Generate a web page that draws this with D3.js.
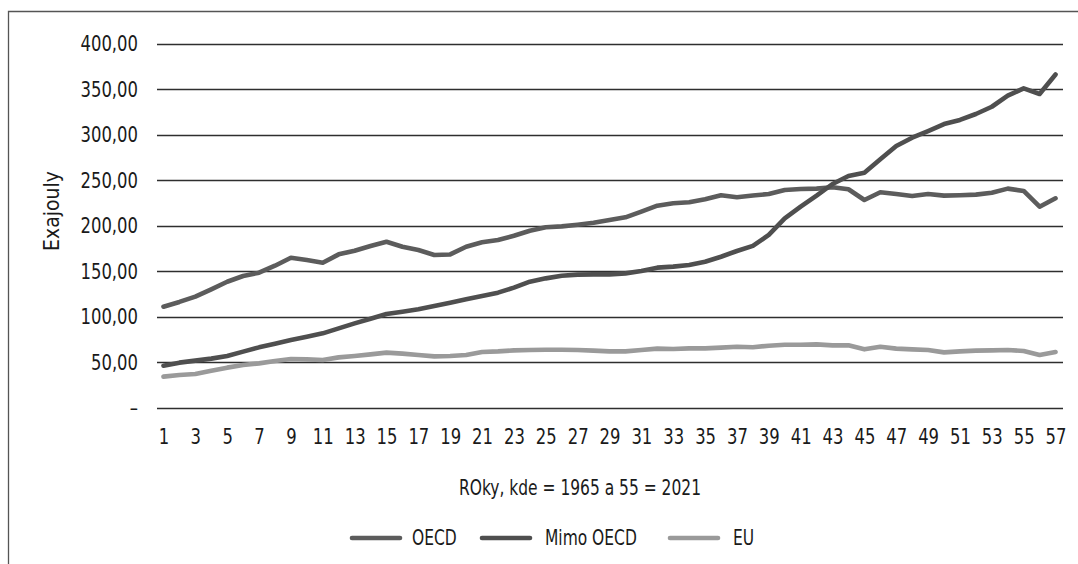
<!DOCTYPE html>
<html>
<head>
<meta charset="utf-8">
<script src="https://cdn.jsdelivr.net/npm/d3@7"></script>
<style>
  html, body { margin: 0; padding: 0; background: #fff; }
  svg { display: block; }
  text { font-family: "DejaVu Sans Condensed", "DejaVu Sans", sans-serif; font-stretch: condensed; fill: #1a1a1a; }
</style>
</head>
<body>
<svg id="chart" width="1078" height="564"></svg>
<script>
// ---- data ----
const years = d3.range(1, 58);
const seriesNames = ["OECD", "Mimo OECD", "EU"];
const oecd = [110.8, 116, 121.8, 129.9, 138.2, 144.5, 148.1, 155.8, 164.6, 162,
  159.1, 168.3, 172.3, 177.5, 182.2, 176.7, 173, 167.6, 168.2, 176.7,
  181.5, 184, 188.8, 194.3, 198, 199, 200.9, 203, 206, 209,
  215.2, 221.8, 224.4, 225.5, 228.8, 233.2, 231, 233, 234.6, 239,
  240.1, 240.5, 242, 239.8, 228, 236.5, 234.6, 232.4, 234.6, 232.8,
  233.2, 233.9, 236, 240.5, 238, 220.7, 229.9];
const mimoOecd = [46, 49.3, 51.5, 53.7, 56.6, 61.4, 66.1, 70.1, 74.2, 77.8,
  81.5, 87, 92.5, 97.6, 102.7, 105.3, 107.9, 111.5, 115.2, 118.9,
  122.5, 126.2, 131.7, 138.3, 141.9, 144.8, 146, 146.3, 146.3, 147.4,
  150, 153.7, 154.8, 156.6, 160.2, 165.7, 172, 177.6, 189.6, 207.9,
  220.7, 232.8, 245.6, 254.4, 258, 272.7, 287.4, 296.5, 303.8, 311.5,
  316, 322.5, 330.5, 342.7, 350.7, 344.5, 366];
const eu = [33.9, 35.7, 36.8, 40.5, 43.8, 46.7, 48.5, 51.1, 53.3, 52.9,
  52.2, 55.1, 56.6, 58.4, 60.3, 59.2, 57.7, 56.2, 56.6, 57.7,
  61, 61.7, 62.8, 63.2, 63.5, 63.5, 63.2, 62.5, 61.7, 61.7,
  63.2, 64.7, 64.3, 65, 65, 65.8, 66.8, 66.2, 67.9, 69,
  69, 69.4, 68.3, 68.3, 63.9, 66.8, 64.7, 63.9, 63.2, 60.6,
  61.7, 62.5, 62.8, 63.2, 62.1, 57.7, 61];
const yTicks = [0, 50, 100, 150, 200, 250, 300, 350, 400];
const yTickLabels = ["–", "50,00", "100,00", "150,00", "200,00", "250,00", "300,00", "350,00", "400,00"];
const xTickLabels = years.filter(d => d % 2 === 1);
const yTitle = "Exajouly";
const xTitle = "ROky, kde = 1965 a 55 = 2021";

const colors = ["#5c5c5c", "#4f4f4f", "#9a9a9a"];
const allSeries = [oecd, mimoOecd, eu];
const tickSX = 0.87, textSX = 0.82;

// ---- chart ----
const svg = d3.select("#chart");

// outer frame
svg.append("path")
  .attr("d", "M8.5,564 L8.5,11.5 L1078,11.5")
  .attr("fill", "none").attr("stroke", "#555").attr("stroke-width", 1.3);

const x = d3.scalePoint().domain(years).range([155.5, 1063.5]).padding(0.5);
const y = d3.scaleLinear().domain([0, 400]).range([407.5, 43.5]);

// y axis labels
const yAxis = d3.axisLeft(y).tickValues(yTicks).tickSize(0)
  .tickFormat((d, i) => yTickLabels[i]);
const gy = svg.append("g").attr("transform", "translate(157,0)").call(yAxis);
gy.select(".domain").remove();
gy.selectAll(".tick text")
  .attr("x", -19 / tickSX).attr("font-size", 21).attr("dy", "0.35em")
  .attr("transform", `scale(${tickSX},1)`);

// gridlines
svg.append("g").selectAll("line").data(yTicks).join("line")
  .attr("x1", 157).attr("x2", 1063)
  .attr("y1", d => Math.round(y(d)) + 0.5).attr("y2", d => Math.round(y(d)) + 0.5)
  .attr("stroke", "#2e2e2e").attr("stroke-width", 1.3);

// x axis labels
const xAxis = d3.axisBottom(x).tickValues(xTickLabels).tickSize(0);
const gx = svg.append("g").attr("transform", "translate(0,407.5)").call(xAxis);
gx.select(".domain").remove();
gx.selectAll(".tick text").attr("font-size", 21).attr("y", 0).attr("dy", "1.75em")
  .attr("transform", `scale(${tickSX},1)`);

// lines
const line = d3.line().x((d, i) => x(years[i])).y(d => y(d));
svg.append("g").selectAll("path").data(allSeries).join("path")
  .attr("d", d => line(d))
  .attr("fill", "none")
  .attr("stroke", (d, i) => colors[i])
  .attr("stroke-width", 4.6)
  .attr("stroke-linejoin", "round")
  .attr("stroke-linecap", "round");

// axis titles
svg.append("text")
  .attr("transform", "translate(59,211) rotate(-90)")
  .attr("text-anchor", "middle").attr("font-size", 21)
  .text(yTitle);
svg.append("text")
  .attr("transform", `translate(580,495) scale(${textSX},1)`)
  .attr("text-anchor", "middle").attr("font-size", 21)
  .text(xTitle);

// legend
const legendItems = [
  { name: seriesNames[0], x1: 352, x2: 400, tx: 412 },
  { name: seriesNames[1], x1: 482, x2: 530, tx: 545 },
  { name: seriesNames[2], x1: 670, x2: 718, tx: 733 }
];
const lg = svg.append("g");
legendItems.forEach((it, i) => {
  lg.append("line")
    .attr("x1", it.x1).attr("x2", it.x2).attr("y1", 538).attr("y2", 538)
    .attr("stroke", colors[i]).attr("stroke-width", 4.6).attr("stroke-linecap", "round");
  lg.append("text")
    .attr("transform", `translate(${it.tx},538) scale(${textSX},1)`)
    .attr("dy", "0.35em")
    .attr("font-size", 21).text(it.name);
});
</script>
</body>
</html>
